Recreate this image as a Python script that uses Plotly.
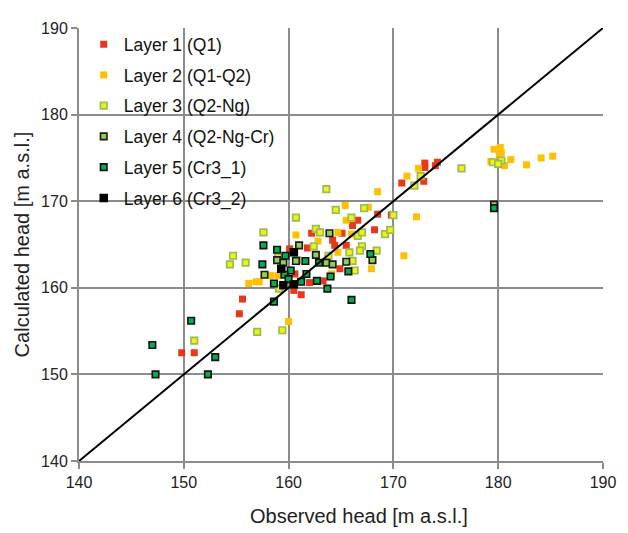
import plotly.graph_objects as go

# ---------------- data (observed, calculated) ----------------
l1_obs = [149.8, 151.0, 155.6, 155.3, 160.1, 160.6, 160.5, 161.2, 168.5, 169.8, 166.6, 166.1, 162.2, 165.1,
          168.2, 164.2, 164.4, 165.5, 161.8, 164.9, 163.3, 162.0, 170.8, 172.9, 173.0, 173.0, 174.0, 174.2]
l1_calc = [152.5, 152.5, 158.7, 157.0, 164.5, 161.6, 159.7, 159.2, 168.5, 168.4, 167.8, 167.2, 166.3, 166.3,
           166.7, 165.5, 164.9, 164.9, 164.6, 162.2, 160.8, 160.6, 172.1, 172.3, 174.4, 173.9, 174.1, 174.5]

l2_obs = [168.5, 165.4, 167.6, 165.5, 164.7, 166.0, 160.7, 162.8, 164.7, 167.9, 164.1, 172.2, 171.0, 158.3,
          159.0, 156.2, 156.9, 157.2, 160.0, 171.3, 172.4, 179.6, 180.2, 180.3, 180.1, 179.3, 180.6, 181.2,
          182.7, 184.1, 185.2]
l2_calc = [171.1, 169.5, 169.3, 167.8, 166.4, 166.2, 166.1, 165.4, 164.1, 162.2, 161.6, 168.2, 163.7, 161.4,
           161.4, 160.5, 160.7, 160.7, 156.1, 172.9, 173.8, 176.0, 176.2, 175.6, 175.3, 174.6, 174.1, 174.8,
           174.2, 175.0, 175.2]

l3_obs = [151.0, 157.0, 159.4, 154.7, 154.4, 155.9, 157.6, 160.7, 160.8, 159.1, 164.5, 167.2, 170.0, 166.0,
          162.6, 163.0, 166.6, 167.0, 169.2, 169.7, 162.4, 167.0, 165.8, 166.8, 168.4, 163.8, 166.1, 166.3,
          163.6, 172.0, 172.6, 176.5, 179.5, 180.3, 180.0, 159.0]
l3_calc = [153.9, 154.9, 155.1, 163.7, 162.7, 162.9, 166.4, 168.1, 163.2, 159.9, 169.0, 169.2, 168.4, 168.1,
           166.8, 166.4, 166.0, 166.4, 166.2, 166.7, 164.8, 164.8, 164.1, 164.3, 164.3, 163.7, 163.1, 162.0,
           171.4, 171.8, 172.9, 173.8, 174.5, 174.7, 174.3, 163.5]

l4_obs = [158.9, 159.5, 157.7, 163.9, 161.0, 168.0, 162.6, 165.5, 160.7, 163.6, 164.2, 179.6]
l4_calc = [163.2, 162.9, 161.5, 166.3, 164.9, 163.2, 163.8, 163.0, 163.1, 162.9, 162.7, 169.6]

l5_obs = [147.0, 147.3, 150.7, 153.0, 152.3, 158.6, 157.6, 158.9, 159.7, 157.5, 160.2, 159.6, 160.0, 158.6,
          167.8, 161.6, 162.9, 165.7, 164.0, 161.7, 162.7, 161.2, 163.7, 166.0, 179.6]
l5_calc = [153.4, 150.0, 156.2, 152.0, 150.0, 158.4, 164.9, 164.4, 163.7, 162.7, 162.0, 161.5, 161.0, 160.5,
           163.9, 163.1, 162.9, 161.9, 161.3, 161.6, 160.8, 160.7, 159.9, 158.6, 169.2]

l6_obs = [160.5, 159.3, 159.5, 160.5]
l6_calc = [164.1, 162.2, 160.3, 160.4]

line_xy = [140, 190]
ticks = [140, 150, 160, 170, 180, 190]

names = ["Layer 1 (Q1)", "Layer 2 (Q1-Q2)", "Layer 3 (Q2-Ng)", "Layer 4 (Q2-Ng-Cr)",
         "Layer 5 (Cr3_1)", "Layer 6 (Cr3_2)"]

# ---------------- styles ----------------
styles = [
    dict(size=7, color="#E8381A", line=dict(width=0)),
    dict(size=7, color="#FFC000", line=dict(width=0)),
    dict(size=6.5, color="#F2F20A", line=dict(width=1.7, color="#9BBB59")),
    dict(size=6.5, color="#92D050", line=dict(width=1.6, color="#1a1a1a")),
    dict(size=6.5, color="#00B050", line=dict(width=1.6, color="#111111")),
    dict(size=8.5, color="#000000", line=dict(width=0)),
]
series = [(l1_obs, l1_calc), (l2_obs, l2_calc), (l3_obs, l3_calc),
          (l4_obs, l4_calc), (l5_obs, l5_calc), (l6_obs, l6_calc)]

fig = go.Figure()
for i, ((xs, ys), name, st) in enumerate(zip(series, names, styles)):
    fig.add_trace(go.Scatter(x=xs, y=ys, mode="markers", name=name,
                             legendgroup="g%d" % i,
                             marker=dict(symbol="square", **st)))

fig.add_trace(go.Scatter(x=line_xy, y=line_xy, mode="lines", showlegend=False,
                         line=dict(color="black", width=2), hoverinfo="skip"))

FONT = "Liberation Sans, Arial, sans-serif"
axis_common = dict(range=[140, 190], tickvals=ticks, showgrid=True, gridcolor="#8c8c8c", gridwidth=2,
                   showline=True, linecolor="#8c8c8c", linewidth=2, ticks="outside", ticklen=6,
                   tickcolor="#8c8c8c", tickwidth=2, zeroline=False,
                   tickfont=dict(family=FONT, size=16, color="#222222"))

# page body has an 8px default margin, so the figure is sized 8px smaller
fig.update_layout(
    width=620, height=525,
    margin=dict(l=71, r=24, t=14, b=72),
    paper_bgcolor="white", plot_bgcolor="white",
    font=dict(family=FONT, color="#222222"),
    xaxis=dict(**axis_common),
    yaxis=dict(**axis_common),
    showlegend=True,
    legend=dict(x=0.009, y=1.004, xanchor="left", yanchor="top", bgcolor="rgba(0,0,0,0)",
                font=dict(family=FONT, size=17.5, color="#111111"), tracegroupgap=5,
                itemwidth=30),
    annotations=[
        dict(text="Observed head [m a.s.l.]", xref="paper", yref="paper", x=0.535, y=-0.128,
             xanchor="center", yanchor="middle", showarrow=False,
             font=dict(family=FONT, size=20, color="#222222")),
        dict(text="Calculated head [m a.s.l.]", xref="paper", yref="paper", x=-0.109, y=0.5,
             xanchor="center", yanchor="middle", showarrow=False, textangle=-90,
             font=dict(family=FONT, size=20, color="#222222")),
    ],
)

fig.write_html("out.html")
